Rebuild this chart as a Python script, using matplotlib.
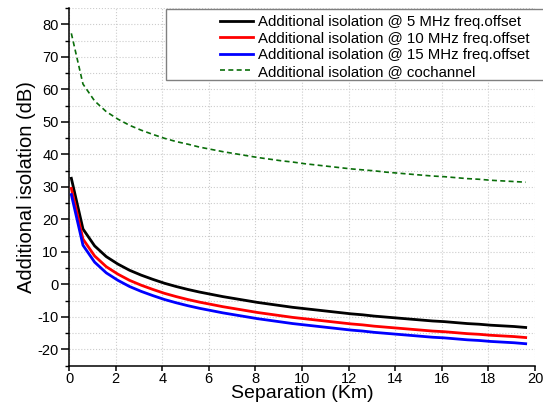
import numpy as np
import matplotlib
matplotlib.use("Agg")
import matplotlib.pyplot as plt
from matplotlib.patches import Rectangle
from matplotlib.ticker import MultipleLocator

plt.rcParams['font.family'] = ['Liberation Sans', 'DejaVu Sans']
plt.rcParams['axes.unicode_minus'] = False

# separation (km)
sep = [0.1, 0.6, 1.1, 1.6, 2.1, 2.6, 3.1, 3.6, 4.1, 4.6, 5.1, 5.6, 6.1, 6.6,
       7.1, 7.6, 8.1, 8.6, 9.1, 9.6, 10.1, 10.6, 11.1, 11.6, 12.1, 12.6, 13.1,
       13.6, 14.1, 14.6, 15.1, 15.6, 16.1, 16.6, 17.1, 17.6, 18.1, 18.6, 19.1, 19.6]

iso_5mhz = [32.6, 17.0, 11.8, 8.5, 6.2, 4.3, 2.8, 1.5, 0.3, -0.7, -1.6, -2.4, -3.1,
            -3.8, -4.4, -5.0, -5.6, -6.1, -6.6, -7.1, -7.5, -7.9, -8.3, -8.7, -9.1,
            -9.4, -9.8, -10.1, -10.4, -10.7, -11.0, -11.3, -11.5, -11.8, -12.1,
            -12.3, -12.6, -12.8, -13.0, -13.3]
iso_10mhz = [29.5, 13.9, 8.7, 5.4, 3.1, 1.2, -0.3, -1.6, -2.8, -3.8, -4.7, -5.5, -6.2,
             -6.9, -7.5, -8.1, -8.7, -9.2, -9.7, -10.2, -10.6, -11.0, -11.4, -11.8,
             -12.2, -12.5, -12.9, -13.2, -13.5, -13.8, -14.1, -14.4, -14.6, -14.9,
             -15.2, -15.4, -15.7, -15.9, -16.1, -16.4]
iso_15mhz = [27.6, 12.0, 6.8, 3.5, 1.2, -0.7, -2.2, -3.5, -4.7, -5.7, -6.6, -7.4, -8.1,
             -8.8, -9.4, -10.0, -10.6, -11.1, -11.6, -12.1, -12.5, -12.9, -13.3, -13.7,
             -14.1, -14.4, -14.8, -15.1, -15.4, -15.7, -16.0, -16.3, -16.5, -16.8,
             -17.1, -17.3, -17.6, -17.8, -18.0, -18.3]
iso_cochannel = [77.2, 61.6, 56.4, 53.1, 50.8, 48.9, 47.4, 46.1, 44.9, 43.9, 43.1, 42.2,
                 41.5, 40.8, 40.2, 39.6, 39.0, 38.5, 38.0, 37.6, 37.1, 36.7, 36.3, 35.9,
                 35.5, 35.2, 34.9, 34.5, 34.2, 33.9, 33.6, 33.3, 33.1, 32.8, 32.5, 32.3,
                 32.0, 31.8, 31.6, 31.4]

labels = ["Additional isolation @ 5 MHz freq.offset",
          "Additional isolation @ 10 MHz freq.offset",
          "Additional isolation @ 15 MHz freq.offset",
          "Additional isolation @ cochannel"]

W, H = 543, 403
fig = plt.figure(figsize=(W / 100, H / 100), dpi=100)
ax = fig.add_axes([69 / W, 1 - 365.5 / H, (535 - 69) / W, (365.5 - 8) / H])

lines = []
lines += ax.plot(sep, iso_5mhz, color='black', lw=2.0, zorder=3)
lines += ax.plot(sep, iso_10mhz, color='#ff0000', lw=2.0, zorder=3)
lines += ax.plot(sep, iso_15mhz, color='#0000ff', lw=2.0, zorder=3)
lines += ax.plot(sep, iso_cochannel, color='#0a6e0a', lw=1.2, ls=(0, (3, 2)), zorder=3)

ax.set_xlim(0, 20)
ax.set_ylim(-25, 85)
ax.xaxis.set_major_locator(MultipleLocator(2))
ax.yaxis.set_major_locator(MultipleLocator(10))
ax.yaxis.set_minor_locator(MultipleLocator(5))

ax.grid(True, which='major', color='#cccccc', ls=':', lw=0.8)
ax.grid(True, which='minor', axis='y', color='#cccccc', ls=':', lw=0.8)
ax.set_axisbelow(True)

for s in ['top', 'right']:
    ax.spines[s].set_visible(False)
for s in ['left', 'bottom']:
    ax.spines[s].set_linewidth(1.1)

ax.tick_params(axis='y', which='major', direction='out', length=5.5, width=1.1,
               labelsize=10.5, pad=2)
ax.tick_params(axis='y', which='minor', direction='out', length=3, width=1.0)
ax.tick_params(axis='x', which='major', direction='out', length=3.5, width=1.1,
               labelsize=10.5, pad=1.5)

ax.set_xlabel("Separation (Km)", fontsize=14, labelpad=-1)
ax.set_ylabel("Additional isolation (dB)", fontsize=14.5, labelpad=1)

# legend frame, running past the right edge of the figure
fig.patches.append(Rectangle((166 / W, 1 - 80 / H), (560 - 166) / W, (80 - 9) / H,
                             transform=fig.transFigure, facecolor='white',
                             edgecolor='#808080', lw=1.0, zorder=4))
leg = fig.legend(lines, labels, loc='upper left', bbox_to_anchor=(220 / W, 1 - 15 / H),
                 frameon=False, fontsize=10.8,
                 handlelength=2.2, handletextpad=0.3, labelspacing=0.17,
                 borderpad=0, borderaxespad=0)
leg.set_zorder(5)

fig.savefig("out.png", dpi=100)
